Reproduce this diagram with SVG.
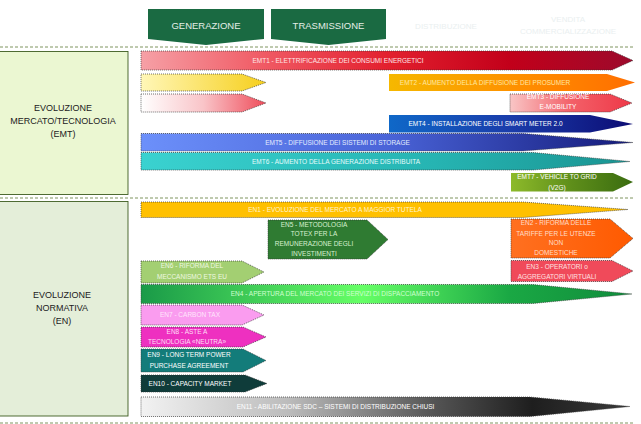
<svg xmlns="http://www.w3.org/2000/svg" width="641" height="424" viewBox="0 0 641 424">
<style>
text{font-family:"Liberation Sans",Arial,sans-serif;}
.t{font-size:6.5px;fill:#ffffff;text-anchor:middle;}
.hd{font-size:9.5px;fill:#e4eee6;text-anchor:middle;}
.faint{font-size:8px;fill:#eaeff0;text-anchor:middle;}
.side{font-size:9px;fill:#222;text-anchor:middle;}
.dot{stroke:#333;stroke-width:0.7;stroke-dasharray:1 1;}
.sep{stroke:#5d7a35;stroke-width:0.8;stroke-dasharray:3 2;fill:none;}
.tab{fill:#1a6a42;}
</style>
<defs>
<linearGradient id="gEMT1" x1="0" x2="1" y1="0" y2="0"><stop offset="0" stop-color="#f6a0a6"/><stop offset="0.25" stop-color="#f05a64"/><stop offset="0.5" stop-color="#e3202e"/><stop offset="0.75" stop-color="#c2001a"/><stop offset="1" stop-color="#9c0a2c"/></linearGradient>
<linearGradient id="gEMT2y" x1="0" x2="1" y1="0" y2="0"><stop offset="0" stop-color="#fff7b8"/><stop offset="1" stop-color="#f6cf1c"/></linearGradient>
<linearGradient id="gEMT2" x1="0" x2="1" y1="0" y2="0"><stop offset="0" stop-color="#f6b800"/><stop offset="0.6" stop-color="#ff8a00"/><stop offset="1" stop-color="#ff6e00"/></linearGradient>
<linearGradient id="gEMT3a" x1="0" x2="1" y1="0" y2="0"><stop offset="0" stop-color="#ffffff"/><stop offset="0.5" stop-color="#f9c4c8"/><stop offset="1" stop-color="#ef4c5a"/></linearGradient>
<linearGradient id="gEMT3" x1="0" x2="1" y1="0" y2="0"><stop offset="0" stop-color="#f9c6c6"/><stop offset="0.5" stop-color="#f36068"/><stop offset="1" stop-color="#ee3848"/></linearGradient>
<linearGradient id="gEMT4" x1="0" x2="1" y1="0" y2="0"><stop offset="0" stop-color="#0f68c8"/><stop offset="0.5" stop-color="#1a3caa"/><stop offset="1" stop-color="#0c0c74"/></linearGradient>
<linearGradient id="gEMT5" x1="0" x2="1" y1="0" y2="0"><stop offset="0" stop-color="#6c90fa"/><stop offset="0.5" stop-color="#4a64d8"/><stop offset="1" stop-color="#141a7a"/></linearGradient>
<linearGradient id="gEMT6" x1="0" x2="1" y1="0" y2="0"><stop offset="0" stop-color="#3ad2d0"/><stop offset="0.6" stop-color="#26b4b2"/><stop offset="1" stop-color="#1a9492"/></linearGradient>
<linearGradient id="gEMT7" x1="0" x2="1" y1="0" y2="0"><stop offset="0" stop-color="#8dba2a"/><stop offset="0.5" stop-color="#5e8e1a"/><stop offset="1" stop-color="#3a6c10"/></linearGradient>
<linearGradient id="gEN4" x1="0" x2="1" y1="0" y2="0"><stop offset="0" stop-color="#1a9a48"/><stop offset="0.45" stop-color="#66ff66"/><stop offset="0.75" stop-color="#1aa844"/><stop offset="1" stop-color="#108c3c"/></linearGradient>
<linearGradient id="gEN11" x1="0" x2="1" y1="0" y2="0"><stop offset="0" stop-color="#f2f2f2"/><stop offset="0.3" stop-color="#bcbcbc"/><stop offset="0.6" stop-color="#545454"/><stop offset="0.8" stop-color="#1e1e1e"/><stop offset="1" stop-color="#3a3a3a"/></linearGradient>
<linearGradient id="gEN2" x1="0" x2="1" y1="0" y2="0"><stop offset="0" stop-color="#ff7020"/><stop offset="1" stop-color="#ff5a00"/></linearGradient>
</defs>
<rect x="0" y="0" width="641" height="424" fill="#ffffff"/>

<g id="separators">
<line class="sep" x1="0" y1="47" x2="633" y2="47"/>
<line class="sep" x1="0" y1="198" x2="633" y2="198"/>
<line class="sep" x1="0" y1="423" x2="633" y2="423"/>
</g>

<g id="tab-generazione">
<polygon class="tab" points="148,9 264,9 264,39 206,45 148,39"/>
<text class="hd" x="206" y="28.5">GENERAZIONE</text>
</g>
<g id="tab-trasmissione">
<polygon class="tab" points="271,9 386,9 386,39 328.5,45 271,39"/>
<text class="hd" x="328.5" y="28.5">TRASMISSIONE</text>
</g>
<g id="tab-distribuzione">
<text class="faint" x="446" y="28.5">DISTRIBUZIONE</text>
</g>
<g id="tab-vendita">
<text class="faint" x="568" y="22">VENDITA</text>
<text class="faint" x="568" y="33.5">COMMERCIALIZZAZIONE</text>
</g>

<g id="box-emt">
<rect x="-1" y="51.5" width="129" height="143" fill="#ebf7d2" stroke="#3d5c1f" stroke-width="0.9"/>
<text class="side" x="63" y="111">EVOLUZIONE</text>
<text class="side" x="63" y="124">MERCATO/TECNOLOGIA</text>
<text class="side" x="63" y="137">(EMT)</text>
</g>
<g id="box-en">
<rect x="-1" y="201.5" width="129" height="214.5" fill="#e4eed9" stroke="#3d5c1f" stroke-width="0.9"/>
<text class="side" x="62" y="298">EVOLUZIONE</text>
<text class="side" x="62" y="311">NORMATIVA</text>
<text class="side" x="62" y="324">(EN)</text>
</g>

<g id="EMT1">
<polygon class="dot" fill="url(#gEMT1)" points="141,51 612,51 633,60.5 612,70 141,70"/>
<text class="t" x="338" y="62.8" style="fill:#ffe4e6">EMT1 - ELETTRIFICAZIONE DEI CONSUMI ENERGETICI</text>
</g>
<g id="EMT2-pre">
<polygon class="dot" fill="url(#gEMT2y)" points="141,74 242,74 266,82.5 242,91 141,91"/>
</g>
<g id="EMT2">
<polygon fill="url(#gEMT2)" points="389,74 607,74 635,82.5 607,91 389,91"/>
<text class="t" x="485" y="84.8" style="fill:#ffe8a0">EMT2 - AUMENTO DELLA DIFFUSIONE DEI PROSUMER</text>
</g>
<g id="EMT3-pre">
<polygon class="dot" fill="url(#gEMT3a)" points="141,94 242,94 266,103 242,112 141,112"/>
</g>
<g id="EMT3">
<polygon class="dot" fill="url(#gEMT3)" points="510,94 610,94 632,103 610,112 510,112"/>
<text class="t" x="558" y="99">EMT3 - DIFFUSIONE</text>
<text class="t" x="558" y="109">E-MOBILITY</text>
</g>
<g id="EMT4">
<polygon fill="url(#gEMT4)" points="389,115 590,115 633,124 590,132.5 389,132.5"/>
<text class="t" x="485.5" y="126.3">EMT4 - INSTALLAZIONE DEGLI SMART METER 2.0</text>
</g>
<g id="EMT5">
<polygon class="dot" fill="url(#gEMT5)" points="141,133.5 523,133.5 633,142.5 523,151 141,151"/>
<text class="t" x="337.5" y="144.8" style="fill:#e4ecff">EMT5 - DIFFUSIONE DEI SISTEMI DI STORAGE</text>
</g>
<g id="EMT6">
<polygon class="dot" fill="url(#gEMT6)" points="141,152.5 533,152.5 630,161.5 533,170 141,170"/>
<text class="t" x="336" y="163.8" style="fill:#e4fbfb">EMT6 - AUMENTO DELLA GENERAZIONE DISTRIBUITA</text>
</g>
<g id="EMT7">
<polygon fill="url(#gEMT7)" points="511,173 613,173 633,182 613,191.5 511,191.5"/>
<text class="t" x="557" y="179">EMT7 - VEHICLE TO GRID</text>
<text class="t" x="557" y="189.5">(V2G)</text>
</g>

<g id="EN1">
<polygon class="dot" fill="#ffc000" points="141,202 523,202 628,209.5 523,217.5 141,217.5"/>
<text class="t" x="335" y="211.8" style="fill:#fff4d0">EN1 - EVOLUZIONE DEL MERCATO A MAGGIOR TUTELA</text>
</g>
<g id="EN5">
<polygon class="dot" fill="#2f7b32" points="268,220 367,220 388,239.5 367,259 268,259"/>
<text class="t" x="314" y="226.5" style="fill:#d8f0d0">EN5 - METODOLOGIA</text>
<text class="t" x="314" y="235.8" style="fill:#d8f0d0">TOTEX PER LA</text>
<text class="t" x="314" y="245.6" style="fill:#d8f0d0">REMUNERAZIONE DEGLI</text>
<text class="t" x="314" y="255.5" style="fill:#d8f0d0">INVESTIMENTI</text>
</g>
<g id="EN2">
<polygon class="dot" fill="url(#gEN2)" points="511,219 610,219 633,238.5 610,258 511,258"/>
<text class="t" x="556" y="225" style="fill:#ffdcc8">EN2 - RIFORMA DELLE</text>
<text class="t" x="556" y="235.6" style="fill:#ffdcc8">TARIFFE PER LE UTENZE</text>
<text class="t" x="556" y="245" style="fill:#ffdcc8">NON</text>
<text class="t" x="556" y="254.6" style="fill:#ffdcc8">DOMESTICHE</text>
</g>
<g id="EN6">
<polygon class="dot" fill="#a3cf72" points="141,261 242,261 264,272 242,283 141,283"/>
<text class="t" x="192" y="268.3" style="fill:#eef8e0">EN6 - RIFORMA DEL</text>
<text class="t" x="192" y="279" style="fill:#eef8e0">MECCANISMO ETS EU</text>
</g>
<g id="EN3">
<polygon class="dot" fill="#f04a5a" points="511,260.5 612,260.5 633,271 612,281.5 511,281.5"/>
<text class="t" x="557" y="269" style="fill:#ffe0e0">EN3 - OPERATORI o</text>
<text class="t" x="557" y="279" style="fill:#ffe0e0">AGGREGATORI VIRTUALI</text>
</g>
<g id="EN4">
<polygon class="dot" fill="url(#gEN4)" points="141,284.5 533,284.5 632,294 533,303.5 141,303.5"/>
<text class="t" x="335" y="296.3" style="fill:#d0ffd0">EN4 - APERTURA DEL MERCATO DEI SERVIZI DI DISPACCIAMENTO</text>
</g>
<g id="EN7">
<polygon class="dot" fill="#fa9cef" points="141,305 242,305 264,315 242,325 141,325"/>
<text class="t" x="190" y="317.3" style="fill:#ffe6fb">EN7 - CARBON TAX</text>
</g>
<g id="EN8">
<polygon class="dot" fill="#ee30c0" points="141,327 243,327 266,337 243,347 141,347"/>
<text class="t" x="187" y="334" style="fill:#ffdff5">EN8 - ASTE A</text>
<text class="t" x="187" y="344" style="fill:#ffdff5">TECNOLOGIA «NEUTRA»</text>
</g>
<g id="EN9">
<polygon class="dot" fill="#137c7a" points="141,349 243,349 266,360.5 243,372 141,372"/>
<text class="t" x="189" y="357.3">EN9 - LONG TERM POWER</text>
<text class="t" x="189" y="368">PURCHASE AGREEMENT</text>
</g>
<g id="EN10">
<polygon class="dot" fill="#0f3c3a" points="141,375 245,375 267,383.5 245,392 141,392"/>
<text class="t" x="190" y="385.6">EN10 - CAPACITY MARKET</text>
</g>
<g id="EN11">
<polygon class="dot" fill="url(#gEN11)" points="141,397 530,397 630,406.5 530,416.5 141,416.5"/>
<text class="t" x="335.5" y="409">EN11 - ABILITAZIONE SDC – SISTEMI DI DISTRIBUZIONE CHIUSI</text>
</g>

<g id="connectors"></g>
</svg>
